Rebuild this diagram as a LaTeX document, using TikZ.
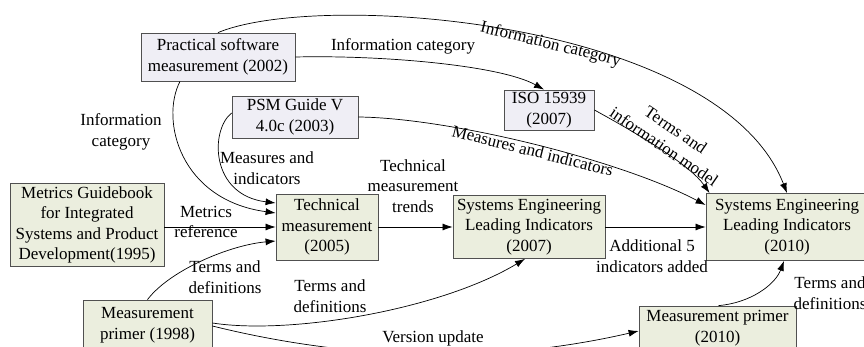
\documentclass[tikz,border=0pt]{standalone}
\usepackage{fontspec}
\setmainfont{Liberation Serif}
\usepackage{tikz}
\usetikzlibrary{arrows.meta,positioning,calc}

\definecolor{boxline}{RGB}{80,80,80}
\definecolor{lavfill}{RGB}{239,238,245}
\definecolor{grnfill}{RGB}{235,238,222}

\tikzset{
  box/.style={shape=rectangle, draw=boxline, line width=0.8pt, align=center, inner sep=1pt},
  psmbox/.style={box, fill=lavfill},
  docbox/.style={box, fill=grnfill},
  lbl/.style={align=center, inner sep=1pt},
  link/.style={->, line width=0.7pt}
}

\begin{document}
\begin{tikzpicture}[x=1pt, y=-1pt, >={Latex[length=10pt,width=7pt]},
  font=\fontsize{17}{20.5}\selectfont]
\useasboundingbox (0,0) rectangle (864,347);

% sources
\node[psmbox, minimum width=154pt, minimum height=48pt] (psm) at (218,57) {Practical software\\measurement (2002)};
\node[psmbox, minimum width=126pt, minimum height=42pt] (guide) at (295,117) {PSM Guide V\\4.0c (2003)};
\node[psmbox, minimum width=90pt, minimum height=40pt] (iso) at (549,110) {ISO 15939\\(2007)};
\node[docbox, minimum width=154pt, minimum height=83pt] (metrics) at (87,225) {Metrics Guidebook\\for Integrated\\Systems and Product\\Development(1995)};
\node[docbox, minimum width=129pt, minimum height=50pt] (mp98) at (147.5,325) {Measurement\\primer (1998)};

% results
\node[docbox, minimum width=102pt, minimum height=66pt] (tech) at (327,227) {Technical\\measurement\\(2005)};
\node[docbox, minimum width=152pt, minimum height=63pt] (seli07) at (529,227) {Systems Engineering\\Leading Indicators\\(2007)};
\node[docbox, minimum width=162pt, minimum height=67pt] (seli10) at (787,227) {Systems Engineering\\Leading Indicators\\(2010)};
\node[docbox, minimum width=157pt, minimum height=44pt] (mp10) at (717.5,328) {Measurement primer\\(2010)};

% connectors
\draw[link] (psm.north) .. controls (320,-10) and (720,20) .. (seli10.north)
  node[pos=0.55, sloped, anchor=north, inner sep=0pt, yshift=3pt] {Information category};
\draw[link] (psm.east) .. controls (380,55) and (500,65) .. ($(iso.north)+(-5,0)$);
\draw[link] ($(psm.south)+(-38,0)$) .. controls (160,120) and (180,200) .. ($(tech.west)+(0,-14)$);
\draw[link] ($(guide.west)+(0,-4)$) .. controls (210,130) and (210,195) .. ($(tech.west)+(0,-24)$);
\draw[link] (guide.east) .. controls (450,118) and (620,160) .. ($(seli10.west)+(0,-22)$)
  node[pos=0.5, sloped, below, inner sep=0pt] {Measures and indicators};
\draw[link] (iso.east) .. controls (640,135) and (690,165) .. ($(seli10.north west)+(4,0)$)
  node[pos=0.5, sloped, anchor=south, align=center, inner sep=0pt, yshift=-2pt] {Terms and\\information model};
\draw[link] (metrics.east |- tech.west) -- (tech.west);
\draw[link] (mp98.north) .. controls (170,270) and (230,245) .. ($(tech.west)+(0,14)$);
\draw[link] (tech.east) -- (seli07.west);
\draw[link] (seli07.east) -- (seli10.west);
\draw[link] ($(mp98.east)+(0,-2)$) .. controls (290,335) and (440,310) .. ($(seli07.south)+(-4,0)$);
\draw[link] ($(mp98.east)+(0,1)$) .. controls (358,362) and (500,363) .. ($(mp10.west)+(0,3)$);
\draw[link] ($(mp10.north)+(1,0)$) .. controls (750,303) and (775,285) .. ($(seli10.south)+(-3,0)$);

% labels
\node[lbl] (l_info) at (403,46) {Information category};
\node[lbl] (l_infocat) at (121,132) {Information\\category};
\node[lbl] (l_meas) at (267,168) {Measures and\\indicators};
\node[lbl] (l_metrics) at (206,222) {Metrics\\reference};
\node[lbl] (l_terms1) at (225,277) {Terms and\\definitions};
\node[lbl] (l_trends) at (413,186) {Technical\\measurement\\trends};
\node[lbl] (l_added) at (652,256) {Additional 5\\indicators added};
\node[lbl] (l_terms2) at (330,296) {Terms and\\definitions};
\node[lbl] (l_version) at (433,338) {Version update};
\node[lbl] (l_terms3) at (830,293) {Terms and\\definitions};
\end{tikzpicture}
\end{document}
